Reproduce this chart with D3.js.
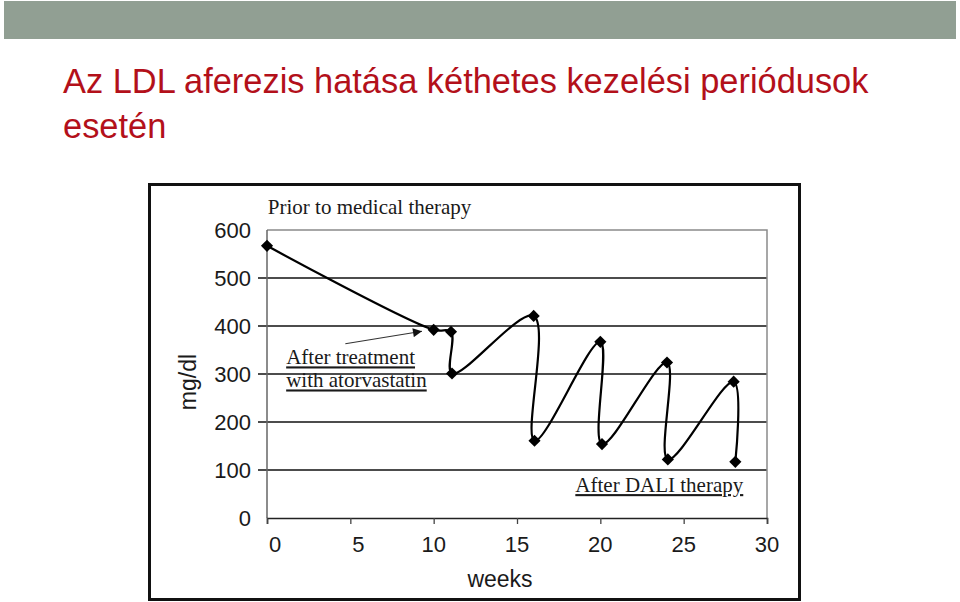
<!DOCTYPE html>
<html>
<head>
<meta charset="utf-8">
<script src="https://cdn.jsdelivr.net/npm/d3@7"></script>
<style>
  body { margin: 0; background: #fff; }
  svg { display: block; }
</style>
</head>
<body>
<script>
// LDL values (mg/dl), weeks on x
var weeks = [0, 10, 11.04, 11.1, 16, 16.05, 20, 20.1, 24, 24.05, 28, 28.1];
var ldl   = [567, 392, 388, 301, 421, 161, 367, 154, 324, 122, 284, 117];

var xTicks = [0, 5, 10, 15, 20, 25, 30];
var yTicks = [0, 100, 200, 300, 400, 500, 600];

var titleLines = ["Az LDL aferezis hatása kéthetes kezelési periódusok", "esetén"];
var notes = [
    {text: "Prior to medical therapy", x: 0.05, y: 633, underline: false},
    {text: "After treatment", x: 1.15, y: 320, underline: true},
    {text: "with atorvastatin", x: 1.15, y: 272, underline: true},
    {text: "After DALI therapy", x: 18.5, y: 54, underline: true}
];

var W = 960, H = 602;
var svg = d3.select("body").append("svg")
    .attr("width", W)
    .attr("height", H);

// slide header bar
svg.append("rect")
    .attr("x", 4).attr("y", 1)
    .attr("width", 952).attr("height", 38)
    .attr("fill", "#919f93");

svg.selectAll("text.title")
    .data(titleLines)
  .enter().append("text")
    .attr("class", "title")
    .attr("x", 63)
    .attr("y", function(d, i) { return 93 + i*45; })
    .attr("font-family", "Liberation Sans, Arial, sans-serif")
    .attr("font-size", 34.4)
    .attr("fill", "#b3101a")
    .text(function(d) { return d; });

// picture frame
svg.append("rect")
    .attr("x", 149.5).attr("y", 184.5)
    .attr("width", 650).attr("height", 415)
    .attr("fill", "#fff")
    .attr("stroke", "#111")
    .attr("stroke-width", 3);

var x = d3.scaleLinear().domain([0, 30]).range([267, 767]);
var y = d3.scaleLinear().domain([0, 600]).range([518, 230]);

var g = svg.append("g");

// gridlines with their outer ticks
g.selectAll("line.grid")
    .data(yTicks.filter(function(d) { return d > 0 && d < 600; }))
  .enter().append("line")
    .attr("class", "grid")
    .attr("x1", x(0) - 9).attr("x2", x(30))
    .attr("y1", function(d) { return y(d); })
    .attr("y2", function(d) { return y(d); })
    .attr("stroke", "#111")
    .attr("stroke-width", 1.6);

// plot area border top / right
g.append("path")
    .attr("d", "M" + x(0) + "," + y(600) + "H" + x(30) + "V" + y(0))
    .attr("fill", "none")
    .attr("stroke", "#8a8a8a")
    .attr("stroke-width", 1.5);

// y axis
g.append("line")
    .attr("x1", x(0)).attr("x2", x(0))
    .attr("y1", y(600)).attr("y2", y(0))
    .attr("stroke", "#666")
    .attr("stroke-width", 1.5);

// x axis
var xAxis = d3.axisBottom(x).tickValues(xTicks).tickSize(6).tickFormat("");
g.append("g")
    .attr("transform", "translate(0," + y(0) + ")")
    .call(xAxis)
    .call(function(a) {
        a.select(".domain").attr("stroke", "#222").attr("stroke-width", 1.6);
        a.selectAll(".tick line").attr("stroke", "#444").attr("stroke-width", 1.3);
    });

g.selectAll("text.xlab")
    .data(xTicks)
  .enter().append("text")
    .attr("class", "xlab")
    .attr("x", function(d) { return x(d) + (d < 10 ? 8 : 0); })
    .attr("y", 552)
    .attr("text-anchor", "middle")
    .attr("font-family", "Liberation Sans, Arial, sans-serif")
    .attr("font-size", 22)
    .attr("fill", "#1a1a1a")
    .text(function(d) { return d; });

g.selectAll("text.ylab")
    .data(yTicks)
  .enter().append("text")
    .attr("class", "ylab")
    .attr("x", 251)
    .attr("y", function(d) { return y(d) + 8; })
    .attr("text-anchor", "end")
    .attr("font-family", "Liberation Sans, Arial, sans-serif")
    .attr("font-size", 22)
    .attr("fill", "#1a1a1a")
    .text(function(d) { return d; });

g.append("text")
    .attr("x", 500).attr("y", 587)
    .attr("text-anchor", "middle")
    .attr("font-family", "Liberation Sans, Arial, sans-serif")
    .attr("font-size", 23)
    .attr("fill", "#1a1a1a")
    .text("weeks");

g.append("text")
    .attr("transform", "translate(196,382) rotate(-90)")
    .attr("text-anchor", "middle")
    .attr("font-family", "Liberation Sans, Arial, sans-serif")
    .attr("font-size", 23)
    .attr("fill", "#1a1a1a")
    .text("mg/dl");

// series
var pts = weeks.map(function(w, i) { return [x(w), y(ldl[i])]; });
var line = d3.line().curve(d3.curveCatmullRom.alpha(0.5));
g.append("path")
    .attr("d", line(pts))
    .attr("fill", "none")
    .attr("stroke", "#000")
    .attr("stroke-width", 2.2);

g.selectAll("path.mark")
    .data(pts)
  .enter().append("path")
    .attr("class", "mark")
    .attr("d", d3.symbol(d3.symbolSquare, 74))
    .attr("transform", function(d) { return "translate(" + d[0] + "," + d[1] + ") rotate(45)"; })
    .attr("fill", "#000");

// annotations
g.selectAll("text.note")
    .data(notes)
  .enter().append("text")
    .attr("class", "note")
    .attr("x", function(d) { return x(d.x); })
    .attr("y", function(d) { return y(d.y); })
    .attr("font-family", "Liberation Serif, Times New Roman, serif")
    .attr("font-size", 21)
    .attr("fill", "#1a1a1a")
    .attr("text-decoration", function(d) { return d.underline ? "underline" : null; })
    .text(function(d) { return d.text; });

// arrow to the atorvastatin point
svg.append("defs").append("marker")
    .attr("id", "head")
    .attr("viewBox", "0 0 10 10")
    .attr("refX", 10).attr("refY", 5)
    .attr("markerWidth", 13).attr("markerHeight", 9)
    .attr("markerUnits", "userSpaceOnUse")
    .attr("orient", "auto")
  .append("path")
    .attr("d", "M0,0L10,5L0,10Z")
    .attr("fill", "#111");

g.append("line")
    .attr("x1", x(4.7)).attr("y1", y(363))
    .attr("x2", x(9.3)).attr("y2", y(389))
    .attr("stroke", "#333")
    .attr("stroke-width", 1.2)
    .attr("marker-end", "url(#head)");
</script>
</body>
</html>
